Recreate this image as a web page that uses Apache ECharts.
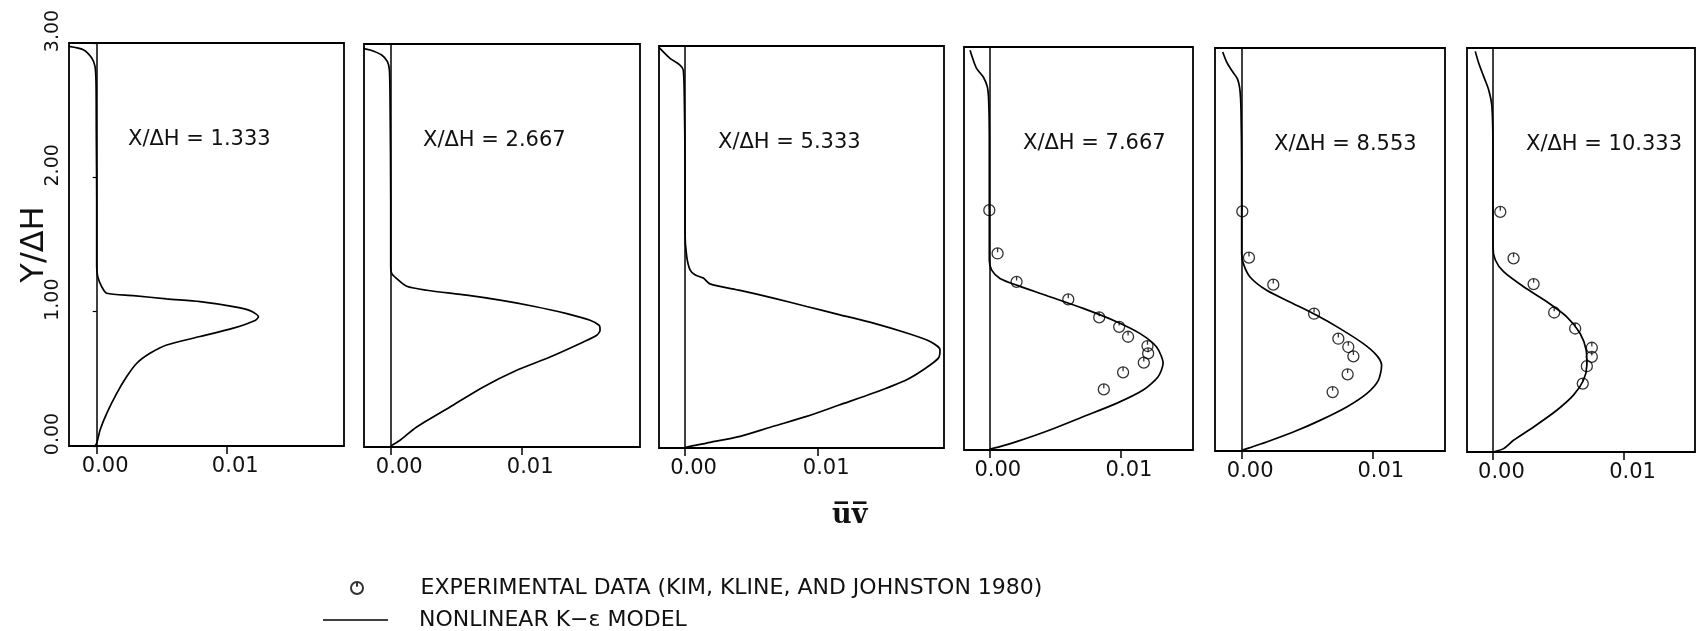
<!DOCTYPE html>
<html>
<head>
<meta charset="utf-8">
<title>uv profiles downstream of the step</title>
<script src="https://cdn.jsdelivr.net/npm/echarts@6/dist/echarts.min.js"></script>
<style>
  html, body { margin: 0; padding: 0; background: #fff; }
  #chart { width: 1696px; height: 631px; }
</style>
</head>
<body>
<div id="chart"></div>
<script>
// stations X/dH shown in each panel
const stations = ['1.333', '2.667', '5.333', '7.667', '8.553', '10.333']
const xTickValues = [0, 0.01]
const yTickValues = [0, 1, 2, 3]

// uv extent of each panel (left frame .. right frame)
const xMins = [-0.00213, -0.00204, -0.00196, -0.00193, -0.00204, -0.00198]
const xMaxs = [0.01902, 0.01903, 0.01952, 0.01553, 0.01556, 0.01541]

// nonlinear k-eps model, pairs of [uv, Y/dH]
const model1 = [
  [-0.00213, 2.975], [-0.00103, 2.950], [-0.00038, 2.888], [-0.00013, 2.826], [-0.00005, 2.702],
  [-0.00003, 2.329], [0, 1.833], [0, 1.336], [0.00008, 1.261], [0.00038, 1.187], [0.00077, 1.137],
  [0.00282, 1.120], [0.00538, 1.095], [0.00795, 1.075], [0.01051, 1.038], [0.01179, 1.008],
  [0.01244, 0.963], [0.01218, 0.934], [0.01051, 0.877], [0.00795, 0.815], [0.00538, 0.752],
  [0.00410, 0.690], [0.00308, 0.616], [0.00231, 0.517], [0.00154, 0.392], [0.00077, 0.243],
  [0.00026, 0.119], [0, 0.020], [-0.00013, 0]
]
const model2 = [
  [-0.00247, 2.975], [-0.00158, 2.955], [-0.00069, 2.918], [-0.00025, 2.868], [-0.0001, 2.806],
  [-0.00005, 2.582], [0, 1.838], [0, 1.341], [0.00008, 1.291], [0.00046, 1.254], [0.00122, 1.197],
  [0.00275, 1.167], [0.0058, 1.130], [0.00835, 1.093], [0.01089, 1.048], [0.01344, 0.993],
  [0.01522, 0.944], [0.01592, 0.905], [0.01598, 0.870], [0.01573, 0.832], [0.01471, 0.782],
  [0.01216, 0.670], [0.00962, 0.571], [0.00707, 0.447], [0.00453, 0.298], [0.00198, 0.149],
  [0.00071, 0.050], [0.00008, 0.012], [0, 0]
]
const model3 = [
  [-0.00196, 2.99], [-0.00113, 2.908], [-0.00038, 2.858], [-0.00013, 2.821], [-0.00005, 2.598],
  [0, 2.100], [0, 1.603], [0.00013, 1.429], [0.00038, 1.330], [0.00075, 1.293], [0.00138, 1.268],
  [0.00188, 1.225], [0.00415, 1.176], [0.00666, 1.119], [0.00917, 1.056], [0.01168, 0.994],
  [0.0142, 0.932], [0.01671, 0.858], [0.01847, 0.795], [0.01922, 0.733], [0.01910, 0.671],
  [0.01796, 0.584], [0.01671, 0.510], [0.0142, 0.410], [0.01168, 0.323], [0.00917, 0.236],
  [0.00666, 0.162], [0.00415, 0.087], [0.00163, 0.037], [0.00013, 0.007], [0, 0]
]
const model4 = [
  [-0.00147, 2.975], [-0.00122, 2.901], [-0.00096, 2.839], [-0.00046, 2.777], [-0.00015, 2.703],
  [-0.00005, 2.603], [0, 2.356], [0, 1.86], [0, 1.413], [0.00018, 1.339], [0.00081, 1.277],
  [0.00208, 1.227], [0.00462, 1.141], [0.00716, 1.054], [0.0097, 0.955], [0.01147, 0.868],
  [0.01274, 0.769], [0.01325, 0.645], [0.01287, 0.546], [0.01173, 0.446], [0.0097, 0.347],
  [0.00716, 0.248], [0.00462, 0.149], [0.00208, 0.062], [0.00081, 0.025], [0, 0.005]
]
const model5 = [
  [-0.00145, 2.970], [-0.00115, 2.896], [-0.00077, 2.834], [-0.00033, 2.772], [-0.00013, 2.685],
  [-0.00005, 2.536], [0, 2.114], [0, 1.469], [0.00013, 1.395], [0.00064, 1.295], [0.00191, 1.196],
  [0.00395, 1.097], [0.00574, 1.010], [0.00753, 0.911], [0.00931, 0.799], [0.01033, 0.712],
  [0.01071, 0.638], [0.01046, 0.526], [0.00957, 0.427], [0.00804, 0.328], [0.006, 0.228],
  [0.00395, 0.141], [0.00191, 0.067], [0.00064, 0.025], [0, 0.005]
]
const model6 = [
  [-0.00135, 2.975], [-0.00109, 2.889], [-0.00071, 2.789], [-0.00033, 2.690], [-0.00008, 2.566],
  [0, 2.244], [0, 1.525], [0.00018, 1.426], [0.00081, 1.339], [0.00234, 1.227], [0.00411, 1.116],
  [0.00563, 1.004], [0.00665, 0.880], [0.00711, 0.756], [0.00716, 0.645], [0.0069, 0.533],
  [0.00614, 0.422], [0.00487, 0.310], [0.0031, 0.186], [0.00157, 0.087], [0.00081, 0.025], [0, 0]
]

// experimental data (Kim, Kline and Johnston 1980), [uv, Y/dH]
const exp4 = [
  [0, 1.785], [0.00063, 1.463], [0.00208, 1.252], [0.00602, 1.121], [0.00838, 0.987], [0.0099, 0.917],
  [0.01058, 0.843], [0.01206, 0.774], [0.01211, 0.719], [0.01178, 0.650], [0.0102, 0.578], [0.00873, 0.451]
]
const exp5 = [
  [0.00005, 1.784], [0.00056, 1.439], [0.00242, 1.238], [0.00554, 1.022], [0.0074, 0.836],
  [0.00816, 0.774], [0.00855, 0.705], [0.00811, 0.571], [0.00696, 0.439]
]
const exp6 = [
  [0.00056, 1.783], [0.00157, 1.438], [0.0031, 1.247], [0.00467, 1.036], [0.00627, 0.917],
  [0.00754, 0.774], [0.00754, 0.707], [0.00716, 0.637], [0.00685, 0.508]
]

const models = [model1, model2, model3, model4, model5, model6]
const experiments = [null, null, null, exp4, exp5, exp6]

const MODEL_NAME = 'NONLINEAR K\u2212\u03b5 MODEL'
const EXP_NAME = 'EXPERIMENTAL DATA (KIM, KLINE, AND JOHNSTON 1980)'

// panel frames in pixels
const boxes = [
  { left: 69, top: 43, width: 275, height: 403 },
  { left: 364, top: 44, width: 276, height: 403 },
  { left: 659, top: 46, width: 285, height: 402 },
  { left: 964, top: 47, width: 229, height: 403 },
  { left: 1215, top: 48, width: 230, height: 403 },
  { left: 1467, top: 48, width: 228, height: 404 }
]

// circle with a short tick, like the plotter marker
const marker = 'path://M1,10A9,9,0,1,1,19,10A9,9,0,1,1,1,10ZM10,1L10,8'
const FONT = 'DejaVu Sans'
const INK = '#111'

const chart = echarts.init(document.getElementById('chart'), null, { renderer: 'canvas' })

const titles = stations.map((s, i) => ({
  text: 'X/\u0394H = ' + s,
  left: boxes[i].left + 59,
  top: boxes[i].top + 86,
  padding: 0,
  textStyle: { fontFamily: FONT, fontSize: 21, fontWeight: 'normal', color: INK }
}))
titles.push({
  text: 'u\u0305v\u0305',
  left: 832,
  top: 502,
  padding: 0,
  textStyle: { fontFamily: 'DejaVu Serif', fontSize: 27, fontWeight: 'bold', color: INK }
})

const series = []
models.forEach((m, i) => {
  series.push({
    name: MODEL_NAME,
    type: 'line',
    xAxisIndex: i,
    yAxisIndex: i,
    data: m,
    symbol: 'none',
    smooth: 0.25,
    clip: false,
    lineStyle: { color: '#000', width: 1.7 },
    itemStyle: { color: '#000' },
    markLine: {
      silent: true,
      symbol: 'none',
      label: { show: false },
      lineStyle: { color: '#000', width: 1.5, type: 'solid' },
      data: [{ xAxis: 0 }]
    }
  })
  if (experiments[i]) {
    series.push({
      name: EXP_NAME,
      type: 'scatter',
      xAxisIndex: i,
      yAxisIndex: i,
      data: experiments[i],
      symbol: marker,
      symbolSize: 11,
      itemStyle: { color: 'rgba(255,255,255,0)', borderColor: '#000', borderWidth: 1.3 }
    })
  }
})

// one legend per row so the rows sit where the reference puts them
function legendRow(name, left, top, icon, itemHeight) {
  return {
    orient: 'vertical',
    left: left,
    top: top,
    padding: 0,
    itemWidth: 65,
    itemHeight: itemHeight,
    selectedMode: false,
    data: [{ name: name, icon: icon }],
    formatter: n => '{g|}' + n,
    textStyle: {
      fontFamily: FONT, fontSize: 22, color: INK, lineHeight: 22,
      rich: { g: { width: 26 } }
    }
  }
}

const option = {
  animation: false,
  backgroundColor: '#fff',
  textStyle: { fontFamily: FONT, color: INK },
  title: titles,
  legend: [
    legendRow(EXP_NAME, 350, 577, marker, 12),
    legendRow(MODEL_NAME, 323, 609, 'rect', 1.7)
  ],
  grid: boxes.map(b => ({
    left: b.left, top: b.top, width: b.width, height: b.height,
    show: true, borderColor: '#000', borderWidth: 1.8,
    backgroundColor: 'transparent',
    outerBoundsMode: 'none'
  })),
  xAxis: boxes.map((b, i) => ({
    type: 'value',
    gridIndex: i,
    min: xMins[i],
    max: xMaxs[i],
    axisLine: { show: false },
    splitLine: { show: false },
    axisTick: { show: true, length: 8, customValues: xTickValues, lineStyle: { color: '#000', width: 1.5 } },
    axisLabel: {
      show: true, margin: 10, customValues: xTickValues,
      fontFamily: FONT, fontSize: 21, color: INK,
      padding: [0, 0, 0, 17],
      formatter: v => v.toFixed(2)
    }
  })),
  yAxis: boxes.map((b, i) => ({
    type: 'value',
    gridIndex: i,
    min: 0,
    max: 3,
    interval: 1,
    name: i === 0 ? 'Y/\u0394H' : '',
    nameLocation: 'middle',
    nameGap: 18,
    nameMoveOverlap: false,
    nameTextStyle: { fontFamily: FONT, fontSize: 32, color: INK },
    axisLine: { show: false },
    splitLine: { show: false },
    axisTick: { show: i === 0, length: 4, customValues: yTickValues, lineStyle: { color: '#000', width: 1.2 } },
    axisLabel: {
      show: i === 0, rotate: 90, margin: 6, customValues: yTickValues,
      fontFamily: FONT, fontSize: 19, color: INK,
      padding: [0, 0, 0, 24],
      formatter: v => v.toFixed(2)
    }
  })),
  series: series
}

chart.setOption(option)
</script>
</body>
</html>
